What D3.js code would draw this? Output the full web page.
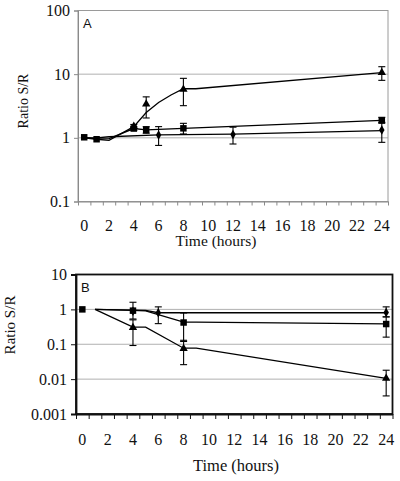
<!DOCTYPE html>
<html><head><meta charset="utf-8">
<script src="https://cdn.jsdelivr.net/npm/d3@7"></script>
<style>body{margin:0;background:#fff}svg{display:block}
text{font-family:"Liberation Serif","Times New Roman",serif !important}
text.lbl{font-family:"Liberation Sans",Arial,sans-serif !important}</style>
</head><body>
<svg id="c" width="400" height="481"></svg>
<script>
// ---------- Panel A data ----------
const xTickLabels = [0,2,4,6,8,10,12,14,16,18,20,22,24];
const aYTicks = [0.1, 1, 10, 100];
const aYTickLabels = ["0.1","1","10","100"];
const aGrid = [1, 10];
// lines (time, value)
const aTriLineT = [0, 1, 2, 4, 5, 6, 7, 8, 9, 24];
const aTriLineV = [1.0, 0.95, 0.91, 1.5, 2.5, 3.6, 4.7, 5.9, 5.9, 10.6];
const aSqLineT = [0, 1, 2, 4, 5, 8, 24];
const aSqLineV = [1.02, 0.96, 0.97, 1.4, 1.33, 1.41, 1.88];
const aDiaLineT = [0, 1, 2, 6, 12, 24];
const aDiaLineV = [1.0, 1.0, 1.04, 1.11, 1.14, 1.3];
// markers
const aTriT = [4, 5, 8, 24];
const aTriV = [1.52, 3.4, 5.8, 10.6];
const aTriLo = [1.42, 2.05, 3.2, 8.0];
const aTriHi = [1.62, 4.4, 8.6, 13.1];
const aSqT = [0, 1, 4, 5, 8, 24];
const aSqV = [1.02, 0.95, 1.4, 1.33, 1.41, 1.88];
const aSqLo = [null, null, 1.3, 1.18, 1.15, 1.7];
const aSqHi = [null, null, 1.5, 1.5, 1.69, 2.1];
const aDiaT = [6, 12, 24];
const aDiaV = [1.11, 1.13, 1.33];
const aDiaLo = [0.76, 0.8, 0.85];
const aDiaHi = [1.5, 1.47, 1.75];

// ---------- Panel B data ----------
const bYTicks = [0.001, 0.01, 0.1, 1, 10];
const bYTickLabels = ["0.001","0.01","0.1","1","10"];
const bGrid = [0.01, 0.1, 1];
const bDiaLineT = [1, 5, 6, 24];
const bDiaLineV = [1.0, 0.93, 0.8, 0.8];
const bSqLineT = [1, 4, 5, 8, 9, 24];
const bSqLineV = [1.0, 0.93, 0.9, 0.43, 0.43, 0.385];
const bTriLineT = [1, 4, 5, 8, 9, 24];
const bTriLineV = [1.0, 0.31, 0.31, 0.077, 0.077, 0.0105];
const bSqT = [0, 4, 8, 24];
const bSqV = [1.0, 0.92, 0.42, 0.38];
const bSqLo = [null, 0.53, 0.12, 0.16];
const bSqHi = [null, 1.6, 0.79, 0.61];
const bDiaT = [4, 6, 24];
const bDiaV = [0.88, 0.8, 0.82];
const bDiaLo = [null, 0.39, 0.61];
const bDiaHi = [null, 1.18, 1.18];
const bTriT = [4, 8, 24];
const bTriV = [0.3, 0.075, 0.0105];
const bTriLo = [0.092, 0.026, 0.0033];
const bTriHi = [0.5, 0.13, 0.018];

const svg = d3.select("#c");
const tickPos = d3.range(-0.5, 24.6, 1);

function panel(cfg) {
  const x = d3.scaleLinear().domain([-0.5, 24.5]).range([cfg.left, cfg.right]);
  const y = d3.scaleLog().domain(cfg.ydom).range([cfg.bottom, cfg.top]);
  const g = svg.append("g");
  g.selectAll(null).data(cfg.grid).enter().append("line")
    .attr("x1", cfg.left).attr("x2", cfg.right)
    .attr("y1", d => y(d)).attr("y2", d => y(d))
    .attr("stroke", "#b0b0b0").attr("stroke-width", 1);
  g.append("rect").attr("x", cfg.left).attr("y", cfg.top)
    .attr("width", cfg.right - cfg.left).attr("height", cfg.bottom - cfg.top)
    .attr("fill", "none").attr("stroke", cfg.borderColor).attr("stroke-width", cfg.borderWidth);
  const yAxis = d3.axisLeft(y).tickValues(cfg.yTicks)
    .tickFormat((d, i) => cfg.yLabels[i]).tickSize(cfg.tickLen).tickPadding(4);
  const ya = g.append("g").attr("transform", `translate(${cfg.left},0)`).call(yAxis);
  ya.attr("font-size", null).attr("font-family", null);
  ya.select(".domain").attr("stroke", cfg.axisColor).attr("stroke-width", cfg.borderWidth);
  ya.selectAll(".tick line").attr("stroke", cfg.axisColor);
  ya.selectAll(".tick text").style("font-size", cfg.fs + "px").attr("fill", "#111");
  const xAxis = d3.axisBottom(x).tickValues(tickPos).tickFormat("").tickSize(cfg.tickLen).tickSizeOuter(0);
  const xa = g.append("g").attr("transform", `translate(0,${cfg.bottom})`).call(xAxis);
  xa.select(".domain").attr("stroke", cfg.axisColor).attr("stroke-width", cfg.borderWidth);
  xa.selectAll(".tick line").attr("stroke", cfg.axisColor);
  g.selectAll(null).data(xTickLabels).enter().append("text")
    .attr("x", d => x(d)).attr("y", cfg.xLabelY)
    .attr("text-anchor", "middle").style("font-size", cfg.fs + "px")
    .attr("fill", "#111").text(d => d);
  g.append("text").attr("x", cfg.xTitleX).attr("y", cfg.xTitleY).attr("text-anchor", "middle")
    .style("font-size", cfg.xTitleFs + "px").attr("fill", "#111").text("Time (hours)");
  g.append("text").attr("transform", `translate(${cfg.yTitleX},${cfg.yTitleY}) rotate(-90)`)
    .attr("text-anchor", "middle").attr("dy", "0.35em")
    .style("font-size", cfg.yTitleFs + "px").attr("fill", "#111").text("Ratio S/R");
  g.append("text").attr("class", "lbl").attr("x", cfg.left + 5).attr("y", cfg.top + 17)
    .style("font-size", "13px").attr("fill", "#111").text(cfg.letter);
  const line = d3.line().x(d => x(d[0])).y(d => y(d[1]));
  cfg.lines.forEach(([T, V]) => {
    g.append("path").datum(T.map((t, i) => [t, V[i]])).attr("d", line)
      .attr("fill", "none").attr("stroke", "#000").attr("stroke-width", 1.3);
  });
  cfg.markers.forEach(m => {
    m.T.forEach((t, i) => {
      if (m.lo[i] == null) return;
      const cx = x(t);
      g.append("line").attr("x1", cx).attr("x2", cx).attr("y1", y(m.lo[i])).attr("y2", y(m.hi[i]))
        .attr("stroke", "#000").attr("stroke-width", 1.1);
      [m.lo[i], m.hi[i]].forEach(v => g.append("line").attr("x1", cx - 3.5).attr("x2", cx + 3.5)
        .attr("y1", y(v)).attr("y2", y(v)).attr("stroke", "#000").attr("stroke-width", 1.1));
    });
  });
  const sym = { sq: d3.symbolSquare, tri: d3.symbolTriangle, dia: d3.symbolDiamond };
  const size = { sq: 42, tri: 30, dia: 26 };
  cfg.markers.forEach(m => {
    g.selectAll(null).data(m.T.map((t, i) => [t, m.V[i]])).enter().append("path")
      .attr("d", d3.symbol().type(sym[m.type]).size(size[m.type]))
      .attr("transform", d => `translate(${x(d[0])},${y(d[1])})`).attr("fill", "#000");
  });
}

panel({
  left: 78, right: 388, top: 10.5, bottom: 201.5, ydom: [0.1, 100],
  grid: aGrid, yTicks: aYTicks, yLabels: aYTickLabels,
  borderColor: "#9a9a9a", axisColor: "#8a8a8a", borderWidth: 1, tickLen: 4, fs: 16,
  xLabelY: 230.5, xTitleX: 216, xTitleY: 246, xTitleFs: 15.5,
  yTitleX: 23, yTitleY: 101, yTitleFs: 14, letter: "A",
  lines: [[aTriLineT, aTriLineV], [aSqLineT, aSqLineV], [aDiaLineT, aDiaLineV]],
  markers: [
    { type: "tri", T: aTriT, V: aTriV, lo: aTriLo, hi: aTriHi },
    { type: "sq", T: aSqT, V: aSqV, lo: aSqLo, hi: aSqHi },
    { type: "dia", T: aDiaT, V: aDiaV, lo: aDiaLo, hi: aDiaHi }
  ]
});

panel({
  left: 76, right: 392.5, top: 274.5, bottom: 414, ydom: [0.001, 10],
  grid: bGrid, yTicks: bYTicks, yLabels: bYTickLabels,
  borderColor: "#111", axisColor: "#111", borderWidth: 1.8, tickLen: 5, fs: 16,
  xLabelY: 445, xTitleX: 236, xTitleY: 471, xTitleFs: 16.5,
  yTitleX: 10, yTitleY: 325, yTitleFs: 15, letter: "B",
  lines: [[bDiaLineT, bDiaLineV], [bSqLineT, bSqLineV], [bTriLineT, bTriLineV]],
  markers: [
    { type: "tri", T: bTriT, V: bTriV, lo: bTriLo, hi: bTriHi },
    { type: "sq", T: bSqT, V: bSqV, lo: bSqLo, hi: bSqHi },
    { type: "dia", T: bDiaT, V: bDiaV, lo: bDiaLo, hi: bDiaHi }
  ]
});
</script>
</body></html>
